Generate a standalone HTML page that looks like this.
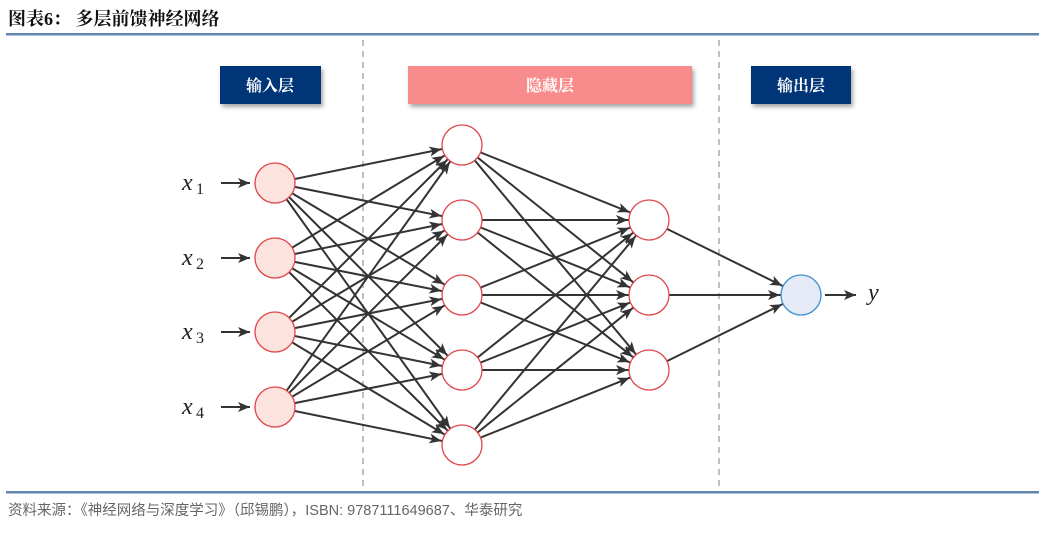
<!DOCTYPE html>
<html><head><meta charset="utf-8"><style>
body{margin:0;background:#fff;}
</style></head><body>
<svg width="1039" height="541" viewBox="0 0 1039 541" xmlns="http://www.w3.org/2000/svg">
<defs>
<marker id="a" markerUnits="userSpaceOnUse" markerWidth="40" markerHeight="20" refX="0" refY="0" orient="auto" overflow="visible">
<path d="M-33,-5 L-21,0 L-33,5 L-30,0 z" fill="#333"/>
</marker>
<marker id="b" markerUnits="userSpaceOnUse" markerWidth="40" markerHeight="20" refX="0" refY="0" orient="auto" overflow="visible">
<path d="M-12,-5 L0,0 L-12,5 L-9,0 z" fill="#333"/>
</marker>
<filter id="s" x="-10%" y="-10%" width="130%" height="140%"><feDropShadow dx="2" dy="3" stdDeviation="2" flood-color="#000" flood-opacity="0.35"/></filter>
</defs>
<text x="8" y="25" font-family="Liberation Serif,'Noto Serif CJK SC',serif" font-weight="bold" font-size="18" fill="#111">图表6：  多层前馈神经网络</text>
<rect x="6" y="33" width="1033" height="2.5" fill="#6185b0"/>
<line x1="363" y1="40" x2="363" y2="490" stroke="#aaa" stroke-width="1.5" stroke-dasharray="6,5"/>
<line x1="719" y1="40" x2="719" y2="490" stroke="#aaa" stroke-width="1.5" stroke-dasharray="6,5"/>
<rect x="6" y="491" width="1033" height="2.5" fill="#6185b0"/>
<text x="8" y="515" font-family="Liberation Sans,'Noto Sans CJK SC',sans-serif" font-size="14.5" fill="#666">资料来源：《神经网络与深度学习》（邱锡鹏），ISBN: 9787111649687、华泰研究</text>

<rect x="220" y="66" width="101" height="38" fill="#003478" filter="url(#s)"/>
<rect x="408" y="66" width="284" height="38" fill="#f88b8b" filter="url(#s)"/>
<rect x="751" y="66" width="100" height="38" fill="#003478" filter="url(#s)"/>
<g font-family="'Noto Serif CJK SC',serif" font-weight="bold" font-size="16" fill="#fff" text-anchor="middle">
<text x="270" y="91">输入层</text><text x="550" y="91">隐藏层</text><text x="801" y="91">输出层</text>
</g>

<g stroke="#333" stroke-width="2" marker-end="url(#a)">
<!-- input to hidden -->
<line x1="275" y1="183" x2="462" y2="145"/><line x1="275" y1="183" x2="462" y2="220"/><line x1="275" y1="183" x2="462" y2="295"/><line x1="275" y1="183" x2="462" y2="370"/><line x1="275" y1="183" x2="462" y2="445"/>
<line x1="275" y1="258" x2="462" y2="145"/><line x1="275" y1="258" x2="462" y2="220"/><line x1="275" y1="258" x2="462" y2="295"/><line x1="275" y1="258" x2="462" y2="370"/><line x1="275" y1="258" x2="462" y2="445"/>
<line x1="275" y1="332" x2="462" y2="145"/><line x1="275" y1="332" x2="462" y2="220"/><line x1="275" y1="332" x2="462" y2="295"/><line x1="275" y1="332" x2="462" y2="370"/><line x1="275" y1="332" x2="462" y2="445"/>
<line x1="275" y1="407" x2="462" y2="145"/><line x1="275" y1="407" x2="462" y2="220"/><line x1="275" y1="407" x2="462" y2="295"/><line x1="275" y1="407" x2="462" y2="370"/><line x1="275" y1="407" x2="462" y2="445"/>
<!-- hidden to hidden2 -->
<line x1="462" y1="145" x2="649" y2="220"/><line x1="462" y1="145" x2="649" y2="295"/><line x1="462" y1="145" x2="649" y2="370"/>
<line x1="462" y1="220" x2="649" y2="220"/><line x1="462" y1="220" x2="649" y2="295"/><line x1="462" y1="220" x2="649" y2="370"/>
<line x1="462" y1="295" x2="649" y2="220"/><line x1="462" y1="295" x2="649" y2="295"/><line x1="462" y1="295" x2="649" y2="370"/>
<line x1="462" y1="370" x2="649" y2="220"/><line x1="462" y1="370" x2="649" y2="295"/><line x1="462" y1="370" x2="649" y2="370"/>
<line x1="462" y1="445" x2="649" y2="220"/><line x1="462" y1="445" x2="649" y2="295"/><line x1="462" y1="445" x2="649" y2="370"/>
<!-- to output -->
<line x1="649" y1="220" x2="801" y2="295"/><line x1="649" y1="295" x2="801" y2="295"/><line x1="649" y1="370" x2="801" y2="295"/>
</g>
<g stroke="#333" stroke-width="2" marker-end="url(#b)">
<line x1="221" y1="183" x2="250" y2="183"/><line x1="221" y1="258" x2="250" y2="258"/><line x1="221" y1="332" x2="250" y2="332"/><line x1="221" y1="407" x2="250" y2="407"/>
<line x1="825" y1="295" x2="856" y2="295"/>
</g>

<g fill="#fde3de" stroke="#e0464a" stroke-width="1.3">
<circle cx="275" cy="183" r="20"/><circle cx="275" cy="258" r="20"/><circle cx="275" cy="332" r="20"/><circle cx="275" cy="407" r="20"/>
</g>
<g fill="#fff" stroke="#e0464a" stroke-width="1.3">
<circle cx="462" cy="145" r="20"/><circle cx="462" cy="220" r="20"/><circle cx="462" cy="295" r="20"/><circle cx="462" cy="370" r="20"/><circle cx="462" cy="445" r="20"/>
<circle cx="649" cy="220" r="20"/><circle cx="649" cy="295" r="20"/><circle cx="649" cy="370" r="20"/>
</g>
<circle cx="801" cy="295" r="20" fill="#e4ebf7" stroke="#3f8fd0" stroke-width="1.3"/>

<g font-family="Liberation Serif,serif" fill="#222">
<text x="182" y="190" font-size="24" font-style="italic">x</text><text x="196" y="194" font-size="16">1</text>
<text x="182" y="265" font-size="24" font-style="italic">x</text><text x="196" y="269" font-size="16">2</text>
<text x="182" y="339" font-size="24" font-style="italic">x</text><text x="196" y="343" font-size="16">3</text>
<text x="182" y="414" font-size="24" font-style="italic">x</text><text x="196" y="418" font-size="16">4</text>
<text x="868" y="300" font-size="24" font-style="italic">y</text>
</g>
</svg>
</body></html>
